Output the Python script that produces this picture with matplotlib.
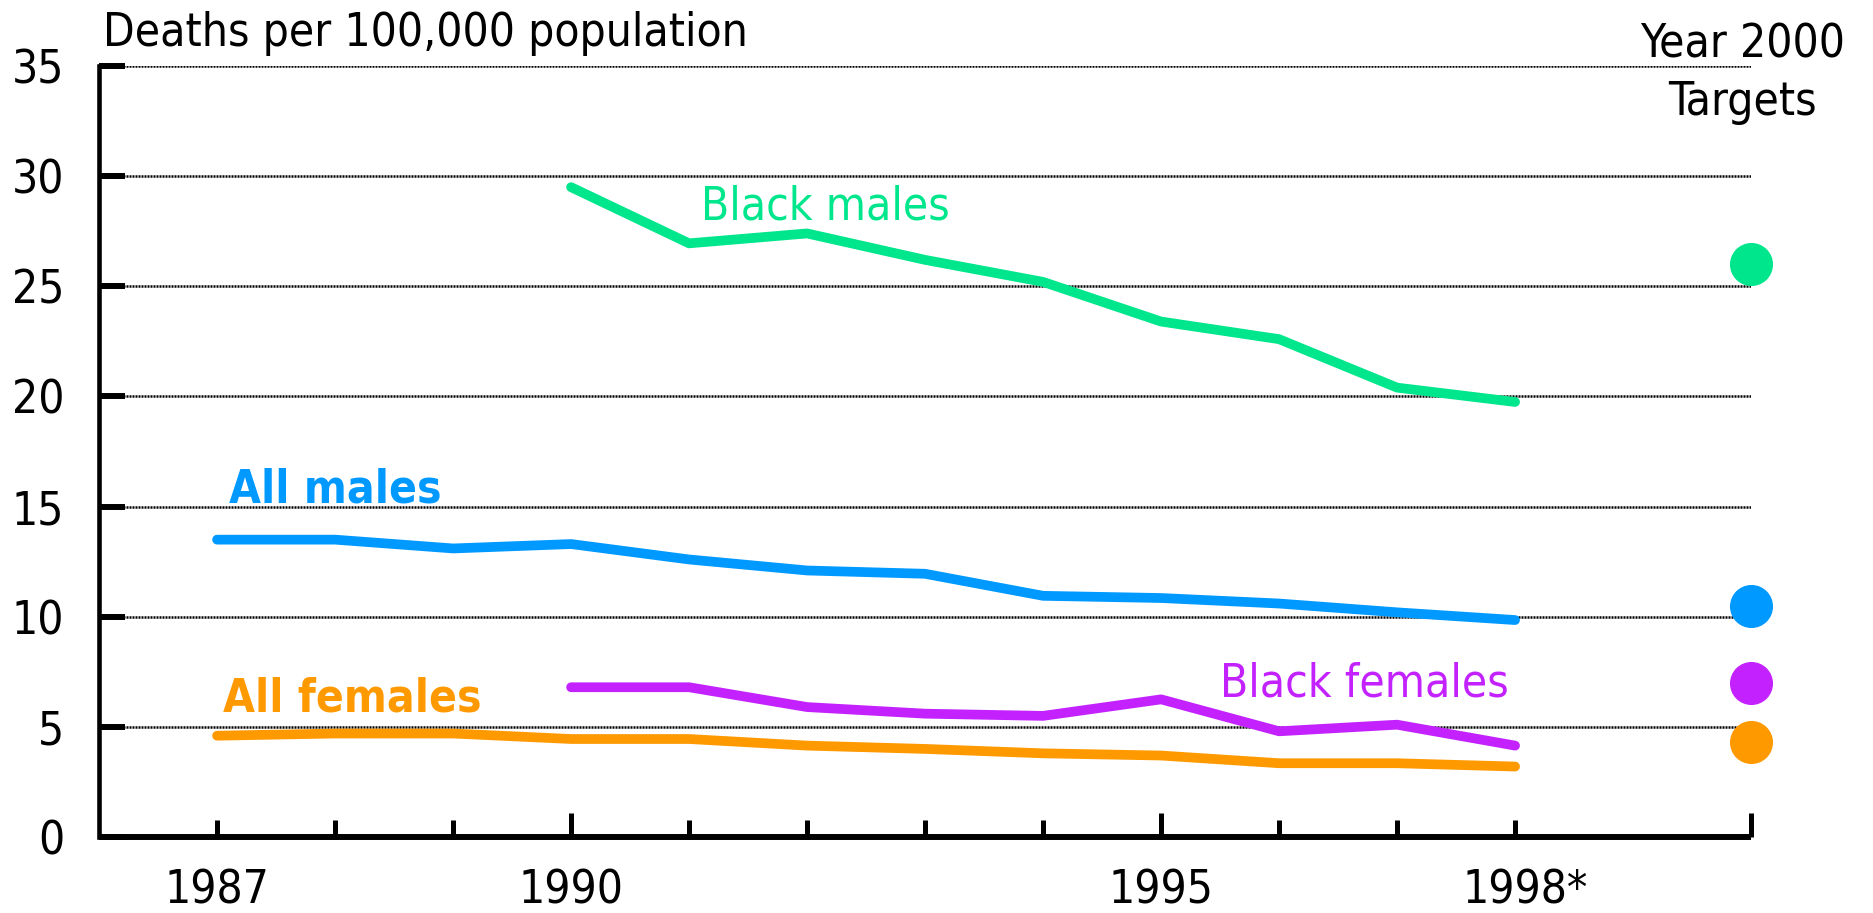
import matplotlib
matplotlib.use("Agg")
import matplotlib.pyplot as plt
import matplotlib.transforms as mtrans

# data
years_all = [1987, 1988, 1989, 1990, 1991, 1992, 1993, 1994, 1995, 1996, 1997, 1998]
all_males = [13.5, 13.5, 13.1, 13.3, 12.6, 12.1, 11.95, 10.95, 10.85, 10.6, 10.2, 9.85]
all_females = [4.6, 4.7, 4.7, 4.45, 4.45, 4.15, 4.0, 3.8, 3.7, 3.35, 3.35, 3.2]

years_black = [1990, 1991, 1992, 1993, 1994, 1995, 1996, 1997, 1998]
black_males = [29.5, 26.95, 27.4, 26.2, 25.2, 23.4, 22.6, 20.4, 19.75]
black_females = [6.8, 6.8, 5.9, 5.6, 5.5, 6.25, 4.8, 5.1, 4.15]

target_year = 2000
target_names = ["Black males", "All males", "Black females", "All females"]
target_values = [26.0, 10.5, 7.0, 4.3]

green = "#00E68C"
blue = "#0099FF"
purple = "#C322FF"
orange = "#FF9900"
target_colors = [green, blue, purple, orange]

plt.rcParams['font.family'] = ['DejaVu Sans']
plt.rcParams['font.stretch'] = 'condensed'
fs = 33

fig = plt.figure(figsize=(18.73, 9.13), dpi=100)
ax = fig.add_axes([0.0529, 0.0832, 0.882, 0.8445])

# gridlines
for v in [5, 10, 15, 20, 25, 30, 35]:
    ax.axhline(v, color="black", lw=1.8, ls=(0, (0.8, 0.4)), zorder=1)

lw = 7
ax.plot(years_black, black_males, color=green, lw=lw, solid_capstyle="round", solid_joinstyle="round", zorder=3)
ax.plot(years_all, all_males, color=blue, lw=lw, solid_capstyle="round", solid_joinstyle="round", zorder=3)
ax.plot(years_black, black_females, color=purple, lw=lw, solid_capstyle="round", solid_joinstyle="round", zorder=3)
ax.plot(years_all, all_females, color=orange, lw=lw, solid_capstyle="round", solid_joinstyle="round", zorder=3)

for v, c in zip(target_values, target_colors):
    ax.plot([target_year], [v], "o", color=c, markersize=30, clip_on=False, zorder=4)

ax.set_xlim(1986, 2000)
ax.set_ylim(0, 35)

# labels for the lines
ax.text(1991.1, 28.05, "Black males", color=green, fontsize=fs, va="baseline", ha="left")
ax.text(1987.1, 15.2, "All males", color=blue, fontsize=fs, fontweight="bold", va="baseline", ha="left")
ax.text(1987.05, 5.7, "All females", color=orange, fontsize=fs, fontweight="bold", va="baseline", ha="left")
ax.text(1995.5, 6.4, "Black females", color=purple, fontsize=fs, va="baseline", ha="left")

ax.text(1999.93, 35.4, "Year 2000", fontsize=fs, ha="center", va="baseline", clip_on=False)
ax.text(1999.93, 32.77, "Targets", fontsize=fs, ha="center", va="baseline", clip_on=False)
ax.text(1986.03, 35.9, "Deaths per 100,000 population", fontsize=fs, ha="left", va="baseline")

# axes styling
for s in ["top", "right"]:
    ax.spines[s].set_visible(False)
ax.spines["bottom"].set_linewidth(4.3)
ax.spines["left"].set_linewidth(3.3)
ax.spines["bottom"].set_capstyle("butt")

ax.set_yticks([0, 5, 10, 15, 20, 25, 30, 35])
ax.set_yticklabels(["0", "5", "10", "15", "20", "25", "30", "35"])
ax.tick_params(axis="y", direction="in", length=19, width=4.3, pad=25, labelsize=fs)

ax.set_xticks([1990, 1995, 2000], labels=["1990", "1995", ""])
ax.set_xticks([1987, 1988, 1989, 1991, 1992, 1993, 1994, 1996, 1997, 1998],
              labels=["1987", "", "", "", "", "", "", "", "", "1998*"], minor=True)
ax.tick_params(axis="x", which="major", direction="in", length=17, width=3.6, pad=23, labelsize=fs)
ax.tick_params(axis="x", which="minor", direction="in", length=12.5, width=3.6, pad=23, labelsize=fs)

# nudge "1998*" so the digits sit under the tick
for lab in ax.get_xticklabels(minor=True):
    if lab.get_text() == "1998*":
        lab.set_transform(lab.get_transform() + mtrans.ScaledTranslation(10 / 100, 0, fig.dpi_scale_trans))

fig.savefig("out.png", dpi=100)
